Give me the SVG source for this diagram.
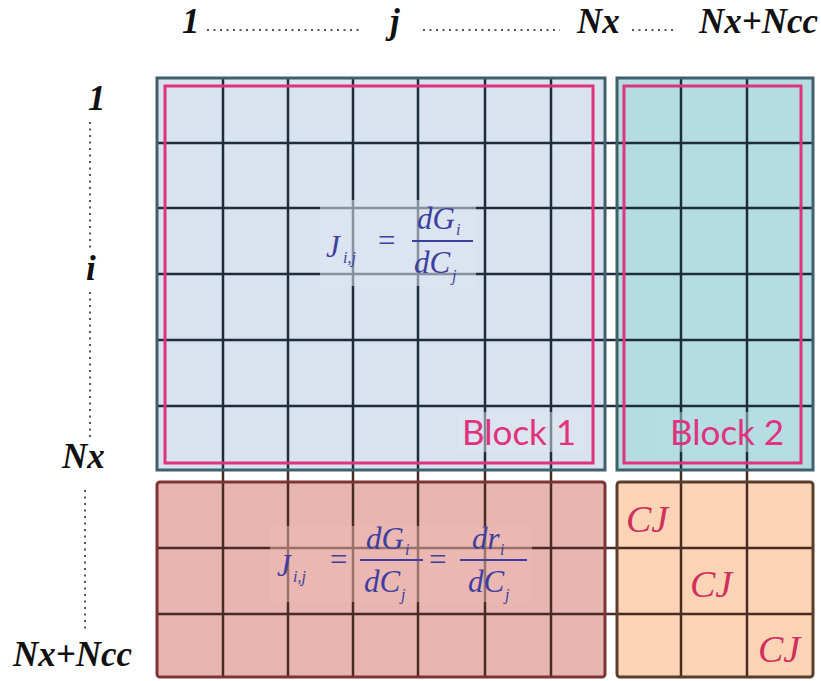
<svg xmlns="http://www.w3.org/2000/svg" width="821" height="681" viewBox="0 0 821 681">
<style>
.lbl{font-family:"Liberation Serif",serif;font-weight:bold;font-style:italic;font-size:35px;fill:#111}
.dots{stroke:#555;stroke-width:2;stroke-dasharray:2 4.5}
.gu{stroke:#1e2d3c;stroke-width:2.5}
.gl{stroke:#4a2a22;stroke-width:2.5}
.f{font-family:"Liberation Serif",serif;font-style:italic;font-size:31px;fill:#3d3f9e}
.fs{font-family:"Liberation Serif",serif;font-style:italic;font-size:16px;fill:#3d3f9e}
.eq{font-family:"Liberation Serif",serif;font-size:31px;fill:#3d3f9e}
.bar{stroke:#3d3f9e;stroke-width:2}
.blk{font-family:Lato,"Liberation Sans",sans-serif;font-size:35px;fill:#e0337d}
.cj{font-family:"Liberation Serif",serif;font-style:italic;font-size:38px;fill:#d0305e}
.pink{fill:none;stroke:#e0337d;stroke-width:3}
</style>
<rect width="821" height="681" fill="#fff"/>
<g id="block1-fill"><rect x="157" y="78" width="448" height="392" fill="#d9e2ef"/></g>
<g id="block2-fill"><rect x="617" y="78" width="196" height="392" fill="#b4dce2"/></g>
<g id="block3-fill"><rect x="157" y="482" width="448" height="195" fill="#e8b5b0"/></g>
<g id="block4-fill"><rect x="617" y="482" width="196" height="195" fill="#fbd4b6"/></g>
<g id="grid">
<line class="gu" x1="157" y1="143" x2="813" y2="143"/>
<line class="gu" x1="157" y1="208" x2="813" y2="208"/>
<line class="gu" x1="157" y1="274" x2="813" y2="274"/>
<line class="gu" x1="157" y1="340" x2="813" y2="340"/>
<line class="gu" x1="157" y1="406" x2="813" y2="406"/>
<line class="gl" x1="157" y1="548" x2="813" y2="548"/>
<line class="gl" x1="157" y1="614" x2="813" y2="614"/>
<g class="gu">
<line x1="223" y1="78" x2="223" y2="472"/><line x1="288" y1="78" x2="288" y2="472"/><line x1="353" y1="78" x2="353" y2="472"/><line x1="418" y1="78" x2="418" y2="472"/><line x1="485" y1="78" x2="485" y2="472"/><line x1="551" y1="78" x2="551" y2="472"/><line x1="681" y1="78" x2="681" y2="472"/><line x1="747" y1="78" x2="747" y2="472"/>
</g>
<g class="gl">
<line x1="223" y1="472" x2="223" y2="677"/><line x1="288" y1="472" x2="288" y2="677"/><line x1="353" y1="472" x2="353" y2="677"/><line x1="418" y1="472" x2="418" y2="677"/><line x1="485" y1="472" x2="485" y2="677"/><line x1="551" y1="472" x2="551" y2="677"/><line x1="681" y1="472" x2="681" y2="677"/><line x1="747" y1="472" x2="747" y2="677"/>
</g>
</g>
<g id="fades">
<rect x="320" y="200" width="156" height="86" fill="#dde5f0" opacity="0.55"/>
<rect x="270" y="526" width="262" height="76" fill="#ebbab4" opacity="0.5"/>
<rect x="458" y="412" width="126" height="40" fill="#dde5f0" opacity="0.5"/>
<rect x="655" y="412" width="138" height="40" fill="#b8dee3" opacity="0.5"/>
</g>
<g id="block1">
<rect x="157" y="78" width="448" height="392" fill="none" stroke="#3e616c" stroke-width="3"/>
<rect class="pink" x="165" y="86" width="428" height="377"/>
<text class="blk" x="462" y="445">Block 1</text>
<text class="f" x="326" y="257">J</text><text class="fs" x="343" y="263">i,j</text>
<text class="eq" x="378" y="251">=</text>
<text class="f" x="417" y="229">dG</text><text class="fs" x="456" y="235">i</text>
<line class="bar" x1="412" y1="241" x2="473" y2="241"/>
<text class="f" x="414" y="273">dC</text><text class="fs" x="452" y="281">j</text>
</g>
<g id="block2">
<rect x="617" y="78" width="196" height="392" fill="none" stroke="#3e616c" stroke-width="3"/>
<rect class="pink" x="624" y="86" width="177" height="377"/>
<text class="blk" x="670" y="445">Block 2</text>
</g>
<g id="block3">
<rect x="157" y="482" width="448" height="195" rx="3" fill="none" stroke="#7d3434" stroke-width="3"/>
<text class="f" x="277" y="576">J</text><text class="fs" x="293" y="582">i,j</text>
<text class="eq" x="330" y="570">=</text>
<text class="f" x="366" y="549">dG</text><text class="fs" x="405" y="555">i</text>
<line class="bar" x1="360" y1="560" x2="423" y2="560"/>
<text class="f" x="364" y="592">dC</text><text class="fs" x="401" y="600">j</text>
<text class="eq" x="429" y="570">=</text>
<text class="f" x="472" y="549">dr</text><text class="fs" x="500" y="555">i</text>
<line class="bar" x1="460" y1="560" x2="527" y2="560"/>
<text class="f" x="468" y="592">dC</text><text class="fs" x="505" y="600">j</text>
</g>
<g id="block4">
<rect x="617" y="482" width="196" height="195" rx="3" fill="none" stroke="#5a3e2c" stroke-width="3"/>
<text class="cj" x="626" y="532">CJ</text>
<text class="cj" x="690" y="597">CJ</text>
<text class="cj" x="758" y="662">CJ</text>
</g>
<g id="col-labels">
<text class="lbl" x="182" y="33">1</text>
<line class="dots" x1="207" y1="30" x2="360" y2="30"/>
<text class="lbl" x="390" y="33">j</text>
<line class="dots" x1="423" y1="30" x2="560" y2="30"/>
<text class="lbl" x="577" y="33">Nx</text>
<line class="dots" x1="632" y1="30" x2="677" y2="30"/>
<text class="lbl" x="818" y="33" text-anchor="end">Nx+Ncc</text>
</g>
<g id="row-labels">
<text class="lbl" x="88" y="110">1</text>
<line class="dots" x1="90" y1="122" x2="90" y2="250"/>
<text class="lbl" x="86" y="280">i</text>
<line class="dots" x1="90" y1="292" x2="90" y2="440"/>
<text class="lbl" x="62" y="468">Nx</text>
<line class="dots" x1="85" y1="490" x2="85" y2="630"/>
<text class="lbl" x="13" y="666">Nx+Ncc</text>
</g>
</svg>
